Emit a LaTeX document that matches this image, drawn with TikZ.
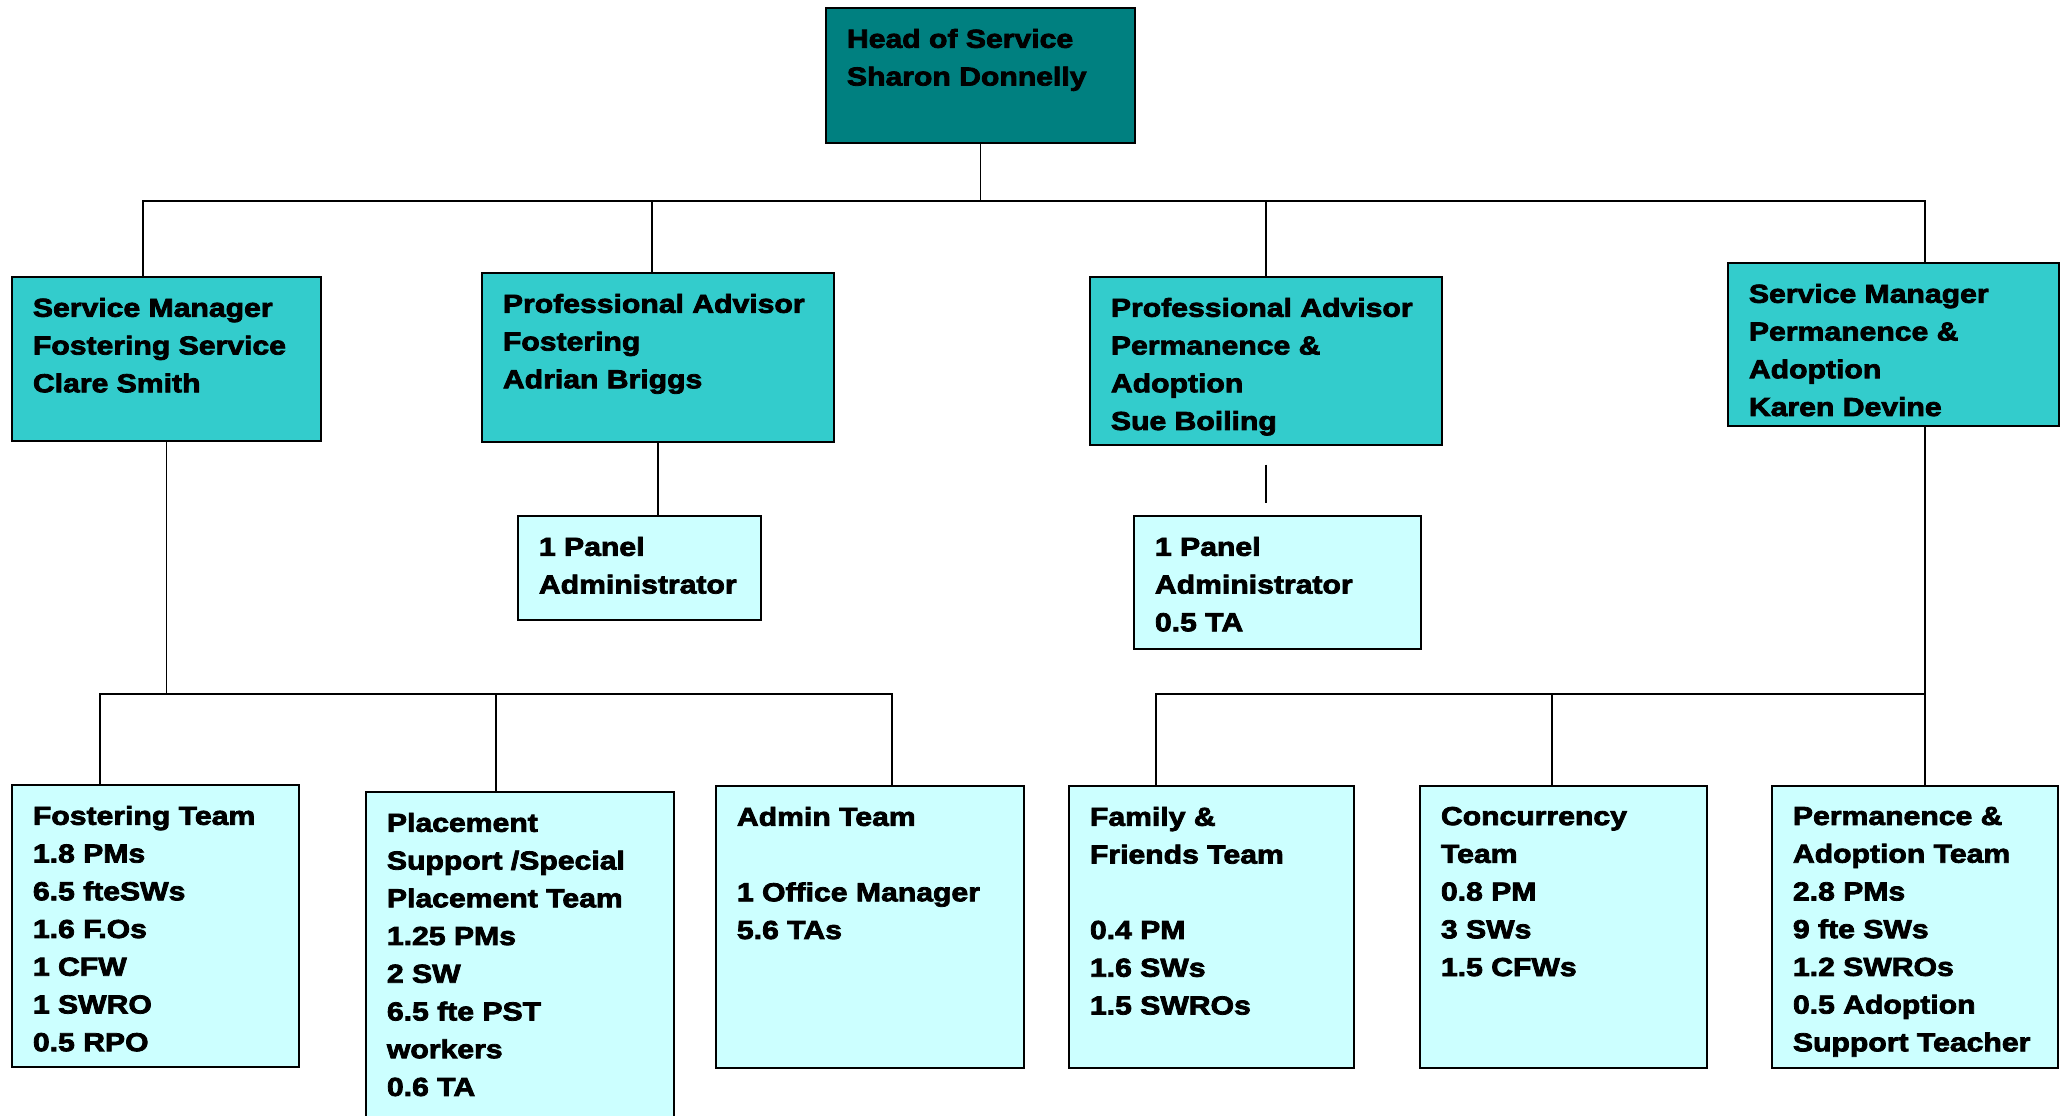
\documentclass[tikz,border=0pt]{standalone}
\usepackage{fontspec}
\setmainfont{Liberation Sans}[FakeStretch=1.16, BoldFeatures={FakeBold=3}]
\usepackage{tikz}

\definecolor{headteal}{HTML}{008080}
\definecolor{mgrcyan}{HTML}{33CCCC}
\definecolor{teamcyan}{HTML}{CCFFFF}

\newlength{\px}
\setlength{\px}{0.75pt}
% box text: width, height (in px), lines
\newcommand{\boxtext}[3]{\parbox[t][#2\px][t]{#1\px}{\rightskip=-14pt plus 1fil\relax #3}}

\begin{document}
\begin{tikzpicture}[
    x=0.75pt, y=-0.75pt,
    every node/.style={font=\fontsize{19.5pt}{28.3pt}\selectfont\bfseries},
    unit/.style={draw=black, line width=1.4pt, anchor=north west, inner sep=15.75pt},
    chief/.style={unit, fill=headteal},
    mgr/.style={unit, fill=mgrcyan},
    team/.style={unit, fill=teamcyan},
    link/.style={line width=1.4pt}
]
\useasboundingbox (0,0) rectangle (2062,1115);

% head of service
\node[chief] (head) at (825,7) {\boxtext{267}{93}{Head of Service\\Sharon Donnelly}};

% managers and advisors
\node[mgr] (sm1) at (11,276) {\boxtext{267}{122}{Service Manager\\Fostering Service\\Clare Smith}};
\node[mgr] (pa1) at (481,272) {\boxtext{310}{127}{Professional Advisor\\Fostering\\Adrian Briggs}};
\node[mgr] (pa2) at (1089,276) {\boxtext{310}{126}{Professional Advisor\\Permanence \&\\Adoption\\Sue Boiling}};
\node[mgr] (sm2) at (1727,262) {\boxtext{289}{121}{Service Manager\\Permanence \&\\Adoption\\Karen Devine}};

% panel admin
\node[team] (panel1) at (517,515) {\boxtext{201}{62}{1 Panel\\Administrator}};
\node[team] (panel2) at (1133,515) {\boxtext{245}{91}{1 Panel\\Administrator\\0.5 TA}};

% teams
\node[team] (fos) at (11,784) {\boxtext{245}{240}{Fostering Team\\1.8 PMs\\6.5 fteSWs\\1.6 F.Os\\1 CFW\\1 SWRO\\0.5 RPO}};
\node[team] (place) at (365,791) {\boxtext{266}{317}{Placement\\Support /Special\\Placement Team\\1.25 PMs\\2 SW\\6.5 fte PST\\workers\\0.6 TA}};
\node[team] (admin) at (715,785) {\boxtext{266}{240}{Admin Team\\\mbox{}\\1 Office Manager\\5.6 TAs}};
\node[team] (ff) at (1068,785) {\boxtext{243}{240}{Family \&\\Friends Team\\\mbox{}\\0.4 PM\\1.6 SWs\\1.5 SWROs}};
\node[team] (conc) at (1419,785) {\boxtext{245}{240}{Concurrency\\Team\\0.8 PM\\3 SWs\\1.5 CFWs}};
\node[team] (pat) at (1771,785) {\boxtext{244}{240}{Permanence \&\\Adoption Team\\2.8 PMs\\9 fte SWs\\1.2 SWROs\\0.5 Adoption\\Support Teacher}};

% bus lines and drop points
\coordinate (hbus) at (0,201);
\coordinate (lbus) at (0,694);
\path (sm1.north west) ++(132,0) coordinate (sm1top)
      (pa1.north) ++(-6,0) coordinate (pa1top)
      (sm2.north west) ++(198,0) coordinate (sm2top)
      (fos.north west) ++(89,0) coordinate (fostop)
      (place.north west) ++(131,0) coordinate (placetop)
      (admin.north west) ++(177,0) coordinate (admintop)
      (ff.north west) ++(88,0) coordinate (fftop)
      (conc.north west) ++(133,0) coordinate (conctop);

\draw[link] (head.south) -- (head.south |- hbus);
\draw[link] (sm1top) |- (sm2top |- hbus) -- (sm2top);
\draw[link] (pa1top) -- (pa1top |- hbus);
\draw[link] (pa2.north) -- (pa2.north |- hbus);

\draw[link] (pa1.south) -- (pa1.south |- panel1.north);
\draw[link, shorten <=14pt, shorten >=9pt] (pa2.south) -- (pa2.south |- panel2.north);

\draw[link] (sm1.south) -- (sm1.south |- lbus);
\draw[link] (fostop) |- (admintop |- lbus) -- (admintop);
\draw[link] (placetop) -- (placetop |- lbus);

\draw[link] (sm2top |- sm2.south) -- (sm2top |- pat.north);
\draw[link] (fftop) |- (sm2top |- lbus);
\draw[link] (conctop) -- (conctop |- lbus);
\end{tikzpicture}
\end{document}
